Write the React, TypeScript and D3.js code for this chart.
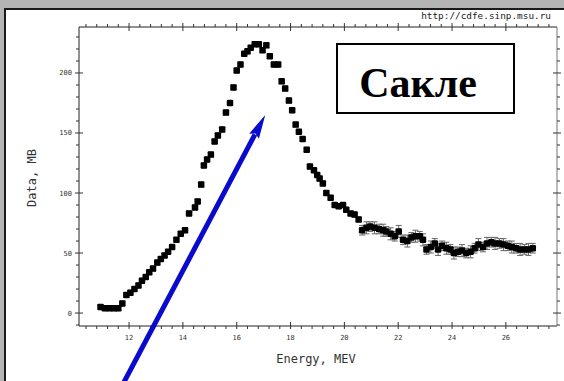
import React from 'react';
import * as d3 from 'd3';

// Saclay photoabsorption data
const energy = [
  10.94, 11.1, 11.27, 11.44, 11.6, 11.75, 11.9, 12.05, 12.2, 12.35,
  12.48, 12.62, 12.75, 12.89, 13.05, 13.18, 13.32, 13.45, 13.6, 13.76,
  13.92, 14.08, 14.23, 14.45, 14.55, 14.68, 14.78, 14.9, 15.04, 15.18,
  15.3, 15.46, 15.6, 15.75, 15.88, 16.0, 16.14, 16.28, 16.4, 16.52,
  16.67, 16.82, 16.96, 17.1, 17.23, 17.38, 17.54, 17.67, 17.8, 17.94,
  18.06, 18.19, 18.31, 18.45, 18.6, 18.72, 18.87, 18.99, 19.08, 19.2,
  19.33, 19.49, 19.64, 19.79, 19.95, 20.07, 20.23, 20.38, 20.53, 20.66,
  20.82, 20.96, 21.12, 21.29, 21.44, 21.56, 21.72, 21.87, 22.02, 22.18,
  22.34, 22.49, 22.64, 22.8, 22.92, 23.05, 23.21, 23.36, 23.48, 23.63,
  23.79, 23.94, 24.07, 24.22, 24.37, 24.53, 24.69, 24.84, 24.98, 25.15,
  25.3, 25.46, 25.6, 25.76, 25.91, 26.07, 26.22, 26.38, 26.53, 26.69,
  26.84, 27.0,
];
const crossSection = [
  5, 4, 4, 4, 4, 8, 15, 17, 20, 23,
  27, 30, 34, 37, 42, 45, 48, 51, 55, 61,
  66, 69, 83, 88, 93, 107, 123, 128, 132, 143,
  148, 153, 167, 175, 188, 202, 207, 216, 218, 221,
  224, 224, 219, 223, 214, 207, 207, 193, 187, 177,
  169, 157, 151, 145, 136, 122, 119, 115, 112, 108,
  100, 96, 90, 89, 90, 86, 83, 82, 78, 69,
  71, 72, 71, 70, 69, 68, 66, 64, 68, 61,
  60, 63, 64, 64, 61, 53, 55, 58, 53, 56,
  54, 53, 50, 51, 52, 50, 51, 54, 57, 55,
  58, 59, 58, 58, 57, 56, 55, 54, 53, 53,
  53, 54,
];
const errors = [
  2, 2, 2, 2, 2, 2, 2, 2, 2, 2,
  2, 2, 2, 2, 2, 2, 2, 2, 2, 2,
  2, 2, 2, 2, 2, 2, 2, 2, 2, 2,
  2, 2, 2, 2, 2, 2, 2, 2, 2, 2,
  2, 2, 2, 2, 2, 2, 2, 2, 2, 2,
  2, 2, 2, 2, 2, 2, 2, 2, 2, 2,
  2, 2, 2, 2, 2, 2, 2, 2, 2, 4,
  5, 4, 5, 4, 5, 4, 5, 4, 5, 4,
  5, 4, 5, 4, 5, 4, 5, 4, 5, 4,
  5, 4, 5, 4, 5, 4, 5, 4, 5, 4,
  5, 4, 5, 4, 5, 4, 5, 4, 5, 4,
  5, 4,
];

const xTickLabels = [12, 14, 16, 18, 20, 22, 24, 26];
const yTickLabels = [0, 50, 100, 150, 200];

// arrow annotation in data units: tail (off chart) -> tip
const arrowTail = { e: 11.47, v: -72 };
const arrowTip = { e: 17.06, v: 165 };

const W = 564;
const H = 381;
const mono = "'DejaVu Sans Mono', monospace";

export default function App() {
  const left = 79, right = 557, top = 27, bottom = 326;
  const x = d3.scaleLinear().domain([10.14, 27.9]).range([left, right]);
  const y = d3.scaleLinear().domain([-10.8, 238.3]).range([bottom, top]);

  const xTicks = d3.range(26, 70).map(i => ({ v: i * 0.4, major: i % 5 === 0 }));
  const yTicks = d3.range(-1, 24).map(i => ({ v: i * 10, major: i % 5 === 0 }));

  const points = energy.map((e, i) => ({ e, v: crossSection[i], err: errors[i] }));

  // arrow geometry
  const tx = x(arrowTip.e), ty = y(arrowTip.v);
  const sx = x(arrowTail.e), sy = y(arrowTail.v);
  const len = Math.hypot(tx - sx, ty - sy);
  const ux = (tx - sx) / len, uy = (ty - sy) / len;
  const headL = 24, headW = 5.5;
  const bx = tx - ux * headL, by = ty - uy * headL;
  const head = [
    [tx, ty],
    [bx - uy * headW, by + ux * headW],
    [bx + ux * 3, by + uy * 3],
    [bx + uy * headW, by - ux * headW],
  ].map(p => p.join(',')).join(' ');

  const ms = 6.5;

  return (
    <svg width={W} height={H} style={{ position: 'absolute', left: 0, top: 0, display: 'block' }}>
      <rect x={0} y={0} width={W} height={H} fill="#b4b4b4" />
      <rect x={5} y={9} width={W + 10} height={H + 10} fill="#fff" stroke="#1a1a1a" strokeWidth={2} />

      <text x={551} y={18.5} textAnchor="end" fontFamily={mono} fontSize={9.4} fill="#222">
        http://cdfe.sinp.msu.ru
      </text>

      {/* frame */}
      <line x1={left} x2={right} y1={top} y2={top} stroke="#222" />
      <line x1={left} x2={right} y1={bottom} y2={bottom} stroke="#222" />
      <line x1={left} x2={left} y1={top} y2={bottom} stroke="#222" />
      <line x1={right} x2={right} y1={top} y2={bottom} stroke="#777" />

      {/* x ticks, bottom and top */}
      {xTicks.map((t, i) => (
        <g key={'xt' + i} stroke="#333">
          <line x1={x(t.v)} x2={x(t.v)} y1={t.major ? bottom - 4 : bottom} y2={bottom + 3} />
          <line x1={x(t.v)} x2={x(t.v)} y1={t.major ? top + 4 : top} y2={top - (t.major ? 4 : 3)} />
        </g>
      ))}
      {/* y ticks, left and right */}
      {yTicks.map((t, i) => (
        <g key={'yt' + i} stroke="#333">
          <line y1={y(t.v)} y2={y(t.v)} x1={t.major ? left + 4 : left} x2={left - (t.major ? 4 : 3)} />
          <line y1={y(t.v)} y2={y(t.v)} x1={t.major ? right - 4 : right} x2={right + (t.major ? 4 : 3)} />
        </g>
      ))}

      {xTickLabels.map(v => (
        <text key={'xl' + v} x={x(v)} y={339.5} textAnchor="middle" fontFamily={mono} fontSize={7} fill="#333">
          {v}
        </text>
      ))}
      {yTickLabels.map(v => (
        <text key={'yl' + v} x={72} y={y(v) + 2.5} textAnchor="end" fontFamily={mono} fontSize={7} fill="#333">
          {v}
        </text>
      ))}

      <text x={316} y={363} textAnchor="middle" fontFamily={mono} fontSize={12} fill="#333">
        Energy, MEV
      </text>
      <text transform="translate(36,178) rotate(-90)" textAnchor="middle" fontFamily={mono} fontSize={12} fill="#333">
        Data, MB
      </text>

      {/* error bars */}
      {points.map((p, i) => (
        <g key={'eb' + i} stroke="#666" strokeWidth={1}>
          <line x1={x(p.e)} x2={x(p.e)} y1={y(p.v - p.err)} y2={y(p.v + p.err)} />
          <line x1={x(p.e) - 3} x2={x(p.e) + 3} y1={y(p.v - p.err)} y2={y(p.v - p.err)} />
          <line x1={x(p.e) - 3} x2={x(p.e) + 3} y1={y(p.v + p.err)} y2={y(p.v + p.err)} />
        </g>
      ))}
      {/* markers */}
      {points.map((p, i) => (
        <rect key={'pt' + i} x={x(p.e) - ms / 2} y={y(p.v) - ms / 2} width={ms} height={ms} rx={1.2} fill="#000" />
      ))}

      {/* label box */}
      <rect x={337} y={44} width={177} height={69} fill="#fff" stroke="#000" strokeWidth={2} />
      <text x={418} y={97} textAnchor="middle" fontFamily="'Liberation Serif', 'Times New Roman', serif"
        fontWeight="bold" fontSize={42} fill="#000">
        Сакле
      </text>

      {/* blue arrow */}
      <line x1={sx} y1={sy} x2={bx + ux * 2} y2={by + uy * 2} stroke="#0a0acd" strokeWidth={5} />
      <polygon points={head} fill="#0a0acd" />
    </svg>
  );
}
